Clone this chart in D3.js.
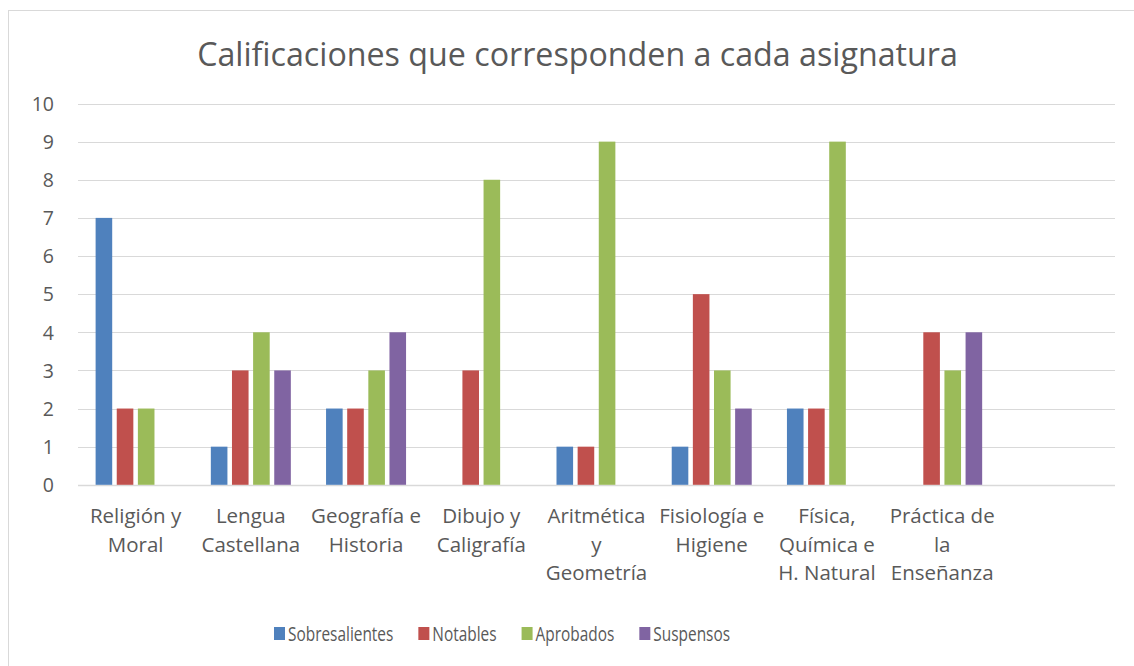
<!DOCTYPE html>
<html lang="es">
  <head>
    <meta charset="utf-8">
    <title>Calificaciones</title>
    <script src="https://d3js.org/d3.v7.min.js"></script>
    <style>
      body { margin: 0; background: #fff; }
      text { font-family: "Open Sans", sans-serif; fill: #595959; }
    </style>
  </head>
  <body>
    <script type="text/javascript">
    // Data
    var categories = [
      ["Religión y", "Moral"],
      ["Lengua", "Castellana"],
      ["Geografía e", "Historia"],
      ["Dibujo y", "Caligrafía"],
      ["Aritmética", "y", "Geometría"],
      ["Fisiología e", "Higiene"],
      ["Física,", "Química e", "H. Natural"],
      ["Práctica de", "la", "Enseñanza"],
      [""]
    ];
    var seriesNames = ["Sobresalientes", "Notables", "Aprobados", "Suspensos"];
    var sobresalientes = [7, 1, 2, 0, 1, 1, 2, 0, null];
    var notables       = [2, 3, 2, 3, 1, 5, 2, 4, null];
    var aprobados      = [2, 4, 3, 8, 9, 3, 9, 3, null];
    var suspensos      = [0, 3, 4, 0, 0, 2, 0, 4, null];
    var yTicks = [0, 1, 2, 3, 4, 5, 6, 7, 8, 9, 10];

    var colors = ["#4F81BD", "#C0504D", "#9BBB59", "#8064A2"];
    var seriesValues = [sobresalientes, notables, aprobados, suspensos];

    var w = 1134, h = 666;
    var plotLeft = 78, plotRight = 1115, plotTop = 103.5, plotBottom = 484.8;

    var svg = d3.select("body").append("svg")
                .attr("width", w)
                .attr("height", h);

    // outer chart border (left and top visible in the picture)
    svg.append("rect")
       .attr("x", 8.5).attr("y", 10.5)
       .attr("width", 1140).attr("height", 700)
       .attr("fill", "none")
       .attr("stroke", "#D9D9D9")
       .attr("stroke-width", 1);

    var idx = d3.range(categories.length);

    var x0 = d3.scaleBand()
               .domain(idx)
               .range([plotLeft, plotRight])
               .paddingInner(0)
               .paddingOuter(0);

    var groupW = 80;
    var x1 = d3.scaleBand()
               .domain(d3.range(seriesNames.length))
               .range([0, groupW])
               .paddingInner(0.215)
               .paddingOuter(0);

    var y = d3.scaleLinear()
              .domain([0, 10])
              .range([plotBottom, plotTop]);

    // gridlines
    svg.append("g")
       .selectAll("line")
       .data(yTicks)
       .enter()
       .append("line")
       .attr("x1", plotLeft).attr("x2", plotRight)
       .attr("y1", function(d) { return Math.round(y(d)) + 0.5; })
       .attr("y2", function(d) { return Math.round(y(d)) + 0.5; })
       .attr("stroke", "#D9D9D9")
       .attr("stroke-width", function(d) { return d === 0 ? 1.5 : 1.2; });

    // y axis labels
    var yAxis = d3.axisLeft(y)
                  .tickValues(yTicks)
                  .tickSize(0)
                  .tickPadding(0);
    var ya = svg.append("g")
       .attr("transform", "translate(54,0)")
       .call(yAxis);
    ya.select(".domain").remove();
    ya.selectAll("text")
      .attr("font-family", "Open Sans, sans-serif")
      .style("font-size", "19.5px")
      .attr("fill", "#595959")
      .attr("dy", "0.35em");

    // bars
    seriesValues.forEach(function(vals, s) {
      svg.append("g")
         .selectAll("rect")
         .data(idx.filter(function(i) { return vals[i] > 0; }))
         .enter()
         .append("rect")
         .attr("x", function(i) { return x0(i) + x0.bandwidth() / 2 - groupW / 2 + x1(s); })
         .attr("y", function(i) { return y(vals[i]); })
         .attr("width", x1.bandwidth())
         .attr("height", function(i) { return y(0) - y(vals[i]); })
         .attr("fill", colors[s]);
    });

    // category labels
    var cat = svg.append("g")
       .selectAll("text")
       .data(idx)
       .enter()
       .append("text")
       .attr("x", function(i) { return x0(i) + x0.bandwidth() / 2; })
       .attr("y", 523)
       .attr("text-anchor", "middle")
       .style("font-size", "20.5px");
    cat.selectAll("tspan")
       .data(function(i) { return categories[i]; })
       .enter()
       .append("tspan")
       .attr("x", function() { return d3.select(this.parentNode).attr("x"); })
       .attr("dy", function(d, j) { return j === 0 ? 0 : 28.5; })
       .text(function(d) { return d; });

    // title
    var title = svg.append("text")
       .attr("x", 577.5)
       .attr("y", 66)
       .attr("text-anchor", "middle")
       .style("font-size", "34px")
       .text("Calificaciones que corresponden a cada asignatura");
    var tw = title.node().getComputedTextLength();
    title.style("font-size", (34 * 761 / tw) + "px");

    // legend (text is narrow in the original, so squeeze it a bit)
    var legend = svg.append("g");
    var lx = 274;
    seriesNames.forEach(function(name, s) {
      legend.append("rect")
            .attr("x", lx).attr("y", 627)
            .attr("width", 11).attr("height", 13)
            .attr("fill", colors[s]);
      var t = legend.append("text")
            .attr("x", lx + 14)
            .attr("y", 641)
            .style("font-size", "19.5px")
            .text(name);
      var tl = t.node().getComputedTextLength() * 0.79;
      t.attr("textLength", tl).attr("lengthAdjust", "spacingAndGlyphs");
      lx += 14 + tl + 25;
    });
    </script>
  </body>
</html>
